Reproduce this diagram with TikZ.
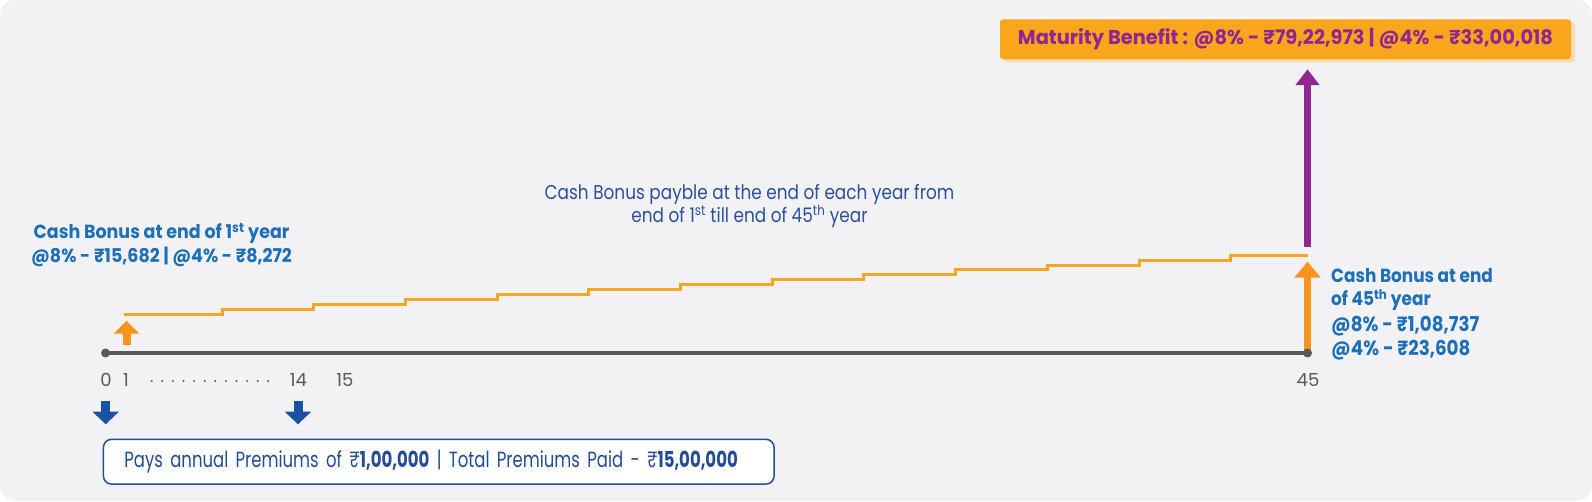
\documentclass[tikz,border=0pt]{standalone}
\usepackage{fontspec}
\setmainfont{Poppins}
\newfontfamily\firstbonusfont[FakeStretch=0.92]{Poppins}
\newfontfamily\lastbonusfont[FakeStretch=0.89]{Poppins}
\newfontfamily\notefont[FakeStretch=0.845]{Poppins}
\newfontfamily\benefitfont[FakeStretch=0.97]{Poppins}
\newfontfamily\payfont[FakeStretch=0.75]{Poppins}
\usetikzlibrary{arrows.meta,shadows}
\definecolor{bgGray}{HTML}{F2F2F4}
\definecolor{axisGray}{HTML}{58595B}
\definecolor{bonusBlue}{HTML}{1E6FB6}
\definecolor{noteBlue}{HTML}{2C4F9B}
\definecolor{payBlue}{HTML}{234C93}
\definecolor{arrowBlue}{HTML}{1A51A3}
\definecolor{stairOrange}{HTML}{F6A623}
\definecolor{arrowOrange}{HTML}{F7941D}
\definecolor{boxOrange}{HTML}{F9A61C}
\definecolor{shadowOrange}{HTML}{F8DDB0}
\definecolor{benefitPurple}{HTML}{8E278F}
\tikzset{
	yeardot/.style={circle,fill=axisGray,inner sep=0pt,minimum size=9pt},
	yearlabel/.style={text=axisGray,font=\fontsize{18}{18}\selectfont,inner sep=0pt,anchor=base},
	bonustext/.style={text=bonusBlue,font=\bfseries\fontsize{19}{24.4}\selectfont,inner sep=0pt},
	fatarrow/.style={line width=#1},
}

\begin{document}
\begin{tikzpicture}[x=1pt,y=-1pt]
\useasboundingbox (0,0) rectangle (1592,501);
\fill[bgGray,rounded corners=15pt] (0,0) rectangle (1592,501);

% time line
\coordinate (t0) at (105.5,353);
\coordinate (t45) at (1307.5,353);
\draw[axisGray,line width=3.2pt] (t0) -- (t45);

% yearly bonus staircase
\draw[stairOrange,line width=3pt] (124,314)
	\foreach \k in {0,...,11}{ -- ({222+91.7*\k},{314-4.9*\k}) -- ({222+91.7*\k},{314-4.9*(\k+1)}) }
	-- (1308,{314-4.9*12});

% arrows
\coordinate (b1foot) at (126.5,345);
\coordinate (b1tip) at (126.5,320.7);
\draw[arrowOrange,fatarrow=8pt,-{Triangle[width=25pt,length=13pt]}] (b1foot) -- (b1tip);
\coordinate (b45tip) at (1307.5,261.7);
\draw[arrowOrange,fatarrow=7pt,-{Triangle[width=25.7pt,length=16pt]}] (t45) -- (b45tip);
\coordinate (mfoot) at (1307.5,246.7);
\coordinate (mtip) at (1307.5,69.3);
\draw[benefitPurple,fatarrow=7.3pt,-{Triangle[width=23pt,length=15.7pt]}] (mfoot) -- (mtip);
\coordinate (p0top) at (105.7,400.7);
\coordinate (p0tip) at (105.7,424.3);
\draw[arrowBlue,fatarrow=9pt,-{Triangle[width=25.7pt,length=12.6pt]}] (p0top) -- (p0tip);
\coordinate (p14top) at (298,400.7);
\coordinate (p14tip) at (298,424.3);
\draw[arrowBlue,fatarrow=9pt,-{Triangle[width=25.7pt,length=12.6pt]}] (p14top) -- (p14tip);

\node[yeardot] (dot0) at (t0) {};
\node[yeardot] (dot45) at (t45) {};

% year numbers
\node[yearlabel] (y0) at (106,386.7) {0};
\node[yearlabel] (y1) at (126,386.7) {1};
\foreach \i in {0,...,11}
	\fill[axisGray] ({151.7+10.6*\i},381) circle (1.1);
\node[yearlabel] (y14) at (298.3,386.7) {14};
\node[yearlabel] (y15) at (345,386.7) {15};
\node[yearlabel] (y45) at (1308,386.7) {45};

% texts (base = last line)
\node[bonustext,align=center,anchor=base] (bonusfirst) at (161.5,262.7)
	{\firstbonusfont Cash Bonus at end of 1\textsuperscript{st} year\\\firstbonusfont @8\% - ₹15,682 | @4\% - ₹8,272};
\node[text=noteBlue,font=\notefont\fontsize{20}{23.4}\selectfont,inner sep=0pt,align=center,anchor=base] (bonusnote) at (749.5,222.7)
	{Cash Bonus payble at the end of each year from\\end of 1\textsuperscript{st} till end of 45\textsuperscript{th} year};
\node[bonustext,font=\lastbonusfont\bfseries\fontsize{19}{23.3}\selectfont,align=left,anchor=base west] (bonuslast) at (1331,355)
	{Cash Bonus at end\\of 45\textsuperscript{th} year\\[2.5pt]{\fontsize{20.5}{24.4}\selectfont @8\% - ₹1,08,737}\\{\fontsize{20.5}{24.4}\selectfont @4\% - ₹23,608}};

\node[fill=boxOrange,rounded corners=3pt,minimum width=571pt,minimum height=40pt,inner sep=0pt,
	drop shadow={shadow xshift=4pt,shadow yshift=-3pt,fill=shadowOrange,opacity=1},
	text=benefitPurple,font=\benefitfont\bfseries\fontsize{20}{20}\selectfont] (maturity) at (1285.5,39.3)
	{Maturity Benefit : @8\% - ₹79,22,973 | @4\% - ₹33,00,018};

\node[draw=payBlue,line width=1.5pt,fill=white,rounded corners=8pt,anchor=west,
	text width=628.8pt,inner xsep=20.9pt,minimum height=44.7pt,align=left,
	text=payBlue,font=\payfont\fontsize{22}{22}\selectfont] (premiums) at (102.7,461.7)
	{Pays annual Premiums of ₹\textbf{1,00,000} | Total Premiums Paid - ₹\textbf{15,00,000}};
\end{tikzpicture}
\end{document}
